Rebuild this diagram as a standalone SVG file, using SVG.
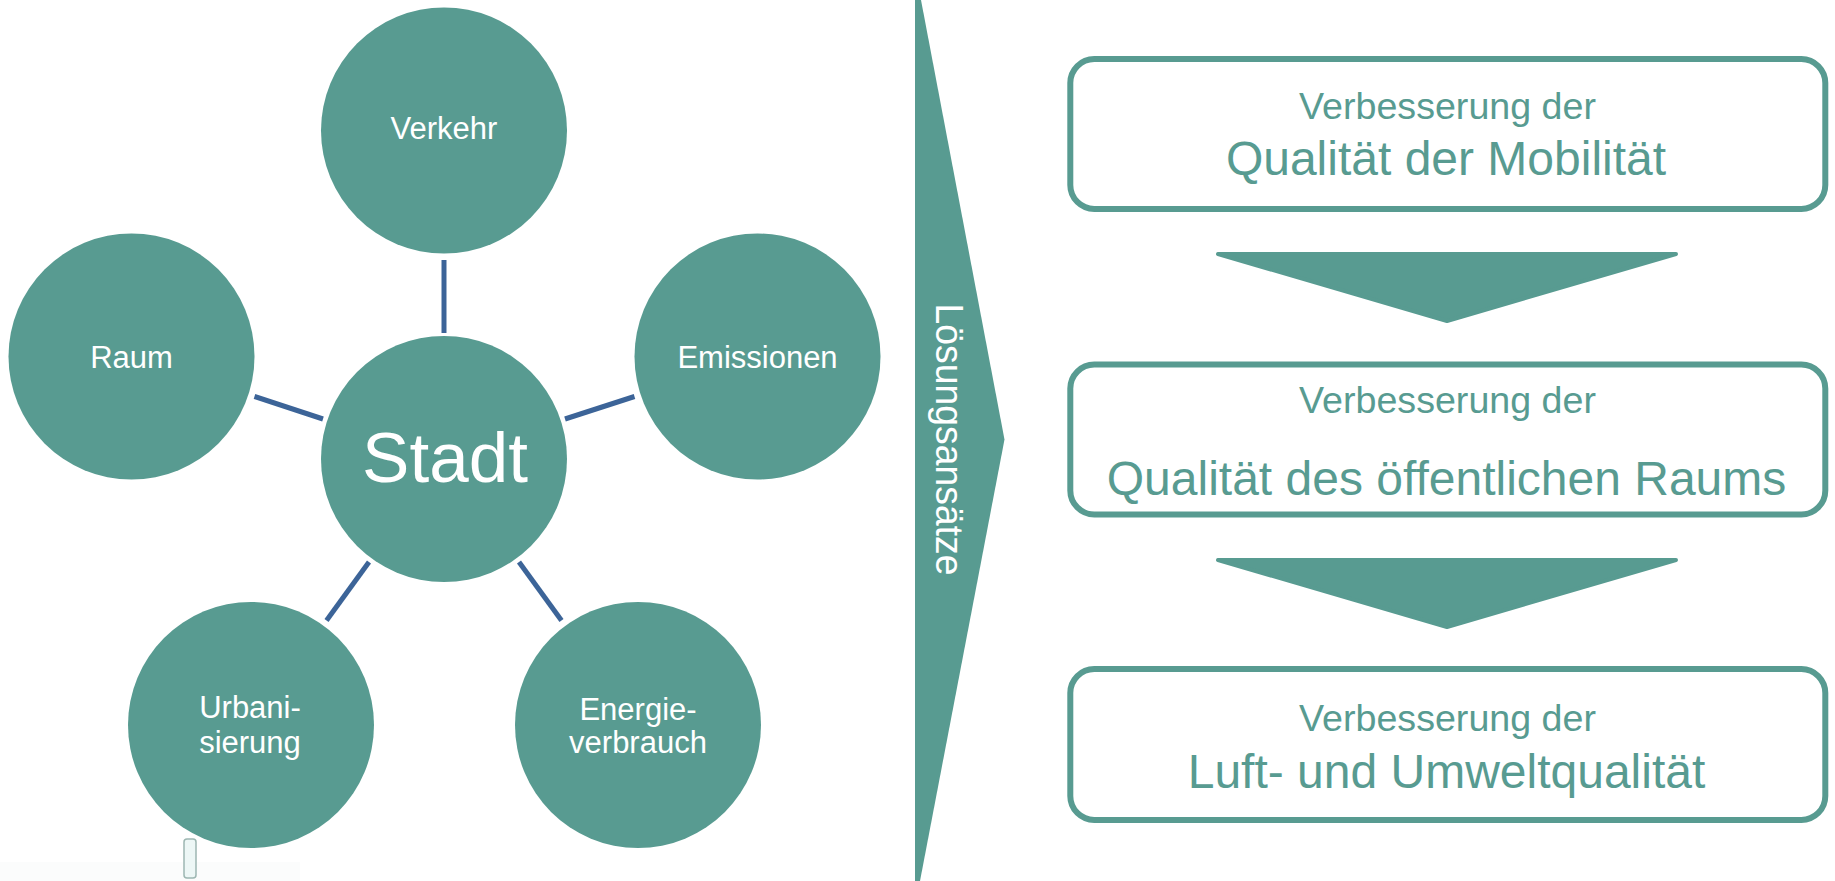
<svg xmlns="http://www.w3.org/2000/svg" width="1835" height="881" viewBox="0 0 1835 881">
<style>
.circ{fill:#589B91}
.ct{font-family:"Liberation Sans",Arial,sans-serif;fill:#FFFFFF;text-anchor:middle;font-size:31px}
.conn{stroke:#3C6498;stroke-width:5;fill:none}
.box{fill:#FFFFFF;stroke:#589B91;stroke-width:6}
.bt{font-family:"Liberation Sans",Arial,sans-serif;fill:#589B91;text-anchor:middle}
.small{font-size:37px}
.big{font-size:48px}
.arr{fill:#589B91;stroke:#589B91;stroke-width:4;stroke-linejoin:round}
</style>
<rect width="1835" height="881" fill="#FFFFFF"/>
<g id="connectors">
<line class="conn" x1="444" y1="260" x2="444" y2="333"/>
<line class="conn" x1="254.5" y1="396.5" x2="323" y2="419"/>
<line class="conn" x1="634.5" y1="396.5" x2="565" y2="419"/>
<line class="conn" x1="326.5" y1="620.5" x2="369" y2="562"/>
<line class="conn" x1="561.5" y1="620.5" x2="519" y2="562"/>
</g>
<g id="node-stadt">
<circle class="circ" cx="444" cy="459" r="123"/>
<text class="ct" x="445" y="482" style="font-size:71px">Stadt</text>
</g>
<g id="node-verkehr">
<circle class="circ" cx="444" cy="130.5" r="123"/>
<text class="ct" x="444" y="139">Verkehr</text>
</g>
<g id="node-raum">
<circle class="circ" cx="131.5" cy="356.5" r="123"/>
<text class="ct" x="131.5" y="368">Raum</text>
</g>
<g id="node-emissionen">
<circle class="circ" cx="757.5" cy="356.5" r="123"/>
<text class="ct" x="757.5" y="368">Emissionen</text>
</g>
<g id="node-urbanisierung">
<circle class="circ" cx="251" cy="725" r="123"/>
<text class="ct" x="250" y="718">Urbani-</text>
<text class="ct" x="250" y="752.5">sierung</text>
</g>
<g id="node-energieverbrauch">
<circle class="circ" cx="638" cy="725" r="123"/>
<text class="ct" x="638" y="719.5">Energie-</text>
<text class="ct" x="638" y="753">verbrauch</text>
</g>
<g id="artifact">
<rect x="0" y="862" width="300" height="19" fill="#F7FAFA" opacity="0.5"/>
<rect x="184" y="839" width="12" height="39" rx="3" fill="#EDF7F6" stroke="#9DB7B2" stroke-width="1.5"/>
</g>
<g id="chevron">
<polygon points="915,0 921,0 1004.5,439.5 920,881 915,881" fill="#589B91"/>
<text transform="translate(936,439.5) rotate(90)" x="0" y="0" text-anchor="middle" font-family="'Liberation Sans',Arial,sans-serif" font-size="38" fill="#FFFFFF" textLength="272" lengthAdjust="spacingAndGlyphs">Lösungsansätze</text>
</g>
<g id="box-mobilitaet">
<rect class="box" x="1070.3" y="59" width="755" height="150" rx="24"/>
<text class="bt small" x="1447.5" y="119.3" textLength="297" lengthAdjust="spacingAndGlyphs">Verbesserung der</text>
<text class="bt big" x="1446" y="175">Qualität der Mobilität</text>
</g>
<g id="arrow-1">
<polygon class="arr" points="1218,254 1676,254 1447,321"/>
</g>
<g id="box-raum">
<rect class="box" x="1070.3" y="364.5" width="755" height="150" rx="24"/>
<text class="bt small" x="1447.5" y="413.3" textLength="297" lengthAdjust="spacingAndGlyphs">Verbesserung der</text>
<text class="bt big" x="1446.5" y="495">Qualität des öffentlichen Raums</text>
</g>
<g id="arrow-2">
<polygon class="arr" points="1218,560 1676,560 1447,627"/>
</g>
<g id="box-luft">
<rect class="box" x="1070.3" y="669" width="755" height="151" rx="24"/>
<text class="bt small" x="1447.5" y="731" textLength="297" lengthAdjust="spacingAndGlyphs">Verbesserung der</text>
<text class="bt big" x="1446.5" y="788">Luft- und Umweltqualität</text>
</g>
</svg>
